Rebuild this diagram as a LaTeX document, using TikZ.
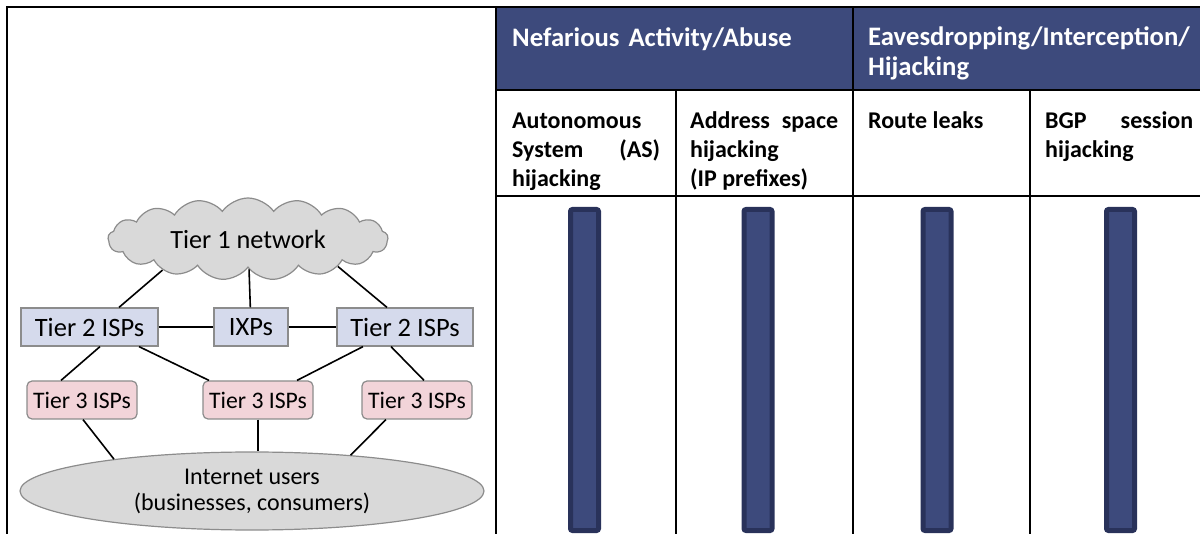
\documentclass[tikz,border=0pt]{standalone}
\usepackage{fontspec}
\setmainfont{Carlito}
\usetikzlibrary{shapes.symbols,shapes.geometric}

\definecolor{headblue}{HTML}{3D4A7C}
\definecolor{bardark}{HTML}{29325A}
\definecolor{cloudgray}{HTML}{D9D9D9}
\definecolor{edgegray}{HTML}{8C8C8C}
\definecolor{tiertwofill}{HTML}{D5DAEC}
\definecolor{tierthreefill}{HTML}{F2D4D9}

\hyphenpenalty=10000
\tolerance=10000

\tikzset{
  gridline/.style={line width=2pt},
  link/.style={line width=1.6pt},
  tiertwo/.style={draw=edgegray, fill=tiertwofill, line width=1.2pt,
    minimum height=38pt, inner sep=0pt, font=\fontsize{26.5}{30}\selectfont},
  tierthree/.style={tiertwo, fill=tierthreefill, rounded corners=5pt,
    minimum width=110pt, font=\fontsize{23.7}{28}\selectfont},
  cellhead/.style={anchor=base west, inner sep=0pt, text=white, text width=330pt,
    align=left, font=\bfseries\fontsize{26.7}{30}\selectfont},
  celltext/.style={anchor=base west, inner sep=0pt, text width=148pt,
    align=justify, font=\bfseries\fontsize{24}{29}\selectfont},
  bar/.style={draw=bardark, fill=headblue, line width=5pt, rounded corners=2pt}
}

\begin{document}
\begin{tikzpicture}[x=1pt, y=-1pt]
  \useasboundingbox (0,0) rectangle (1200,534);

  % Header cells
  \fill[headblue] (496,7) rectangle (1200,90);

  % Table lines
  \draw[gridline] (7,534) -- (7,7) -- (1200,7);
  \draw[gridline] (496,7) -- (496,534);
  \draw[gridline] (853,7) -- (853,534);
  \foreach \x in {676,1030} {
    \draw[gridline] (\x,90) -- (\x,534);
  }
  \foreach \y in {90,196} {
    \draw[gridline] (496,\y) -- (1200,\y);
  }

  % Header texts
  \node[cellhead] (abuse) at (512,47) {Nefarious Activity/Abuse};
  \node[cellhead] (eaves) at (868,46) {Eavesdropping/Interception/\\Hijacking};

  % Threat names
  \node[celltext] (ashijack) at (512,129) {Autonomous System (AS) hijacking};
  \node[celltext] (prefix) at (690,129) {Address space hijacking\\(IP prefixes)};
  \node[celltext] (leaks) at (868,129) {Route leaks};
  \node[celltext] (bgp) at (1045,129) {BGP session hijacking};

  % Bars
  \foreach \x in {584.5,758,937,1120.5} {
    \draw[bar] (\x-14,209.5) rectangle (\x+14,530.5);
  }

  % Network
  \node[cloud, cloud puffs=17, cloud puff arc=110, cloud ignores aspect,
    minimum width=280pt, minimum height=82pt, draw=edgegray, fill=cloudgray,
    line width=1.2pt, inner sep=0pt, font=\fontsize{26.3}{30}\selectfont]
    (tierone) at (248,239) {Tier 1 network};

  \node[tiertwo, minimum width=137pt] (ispleft) at (89.5,327) {Tier 2 ISPs};
  \node[tiertwo, minimum width=74pt] (ixp) at (251,327) {IXPs};
  \node[tiertwo, minimum width=136pt] (ispright) at (405,327) {Tier 2 ISPs};

  \node[tierthree] (localleft) at (82,400) {Tier 3 ISPs};
  \node[tierthree] (localmid) at (258,400) {Tier 3 ISPs};
  \node[tierthree] (localright) at (417,400) {Tier 3 ISPs};

  \node[ellipse, draw=edgegray, fill=cloudgray, line width=1.2pt,
    minimum width=464pt, minimum height=78pt, inner sep=0pt, align=center,
    font=\fontsize{24}{26}\selectfont]
    (users) at (252,491) {Internet users\\(businesses, consumers)};

  % Links
  \draw[link] (tierone.200) -- ([xshift=29.5pt]ispleft.north);
  \draw[link] (tierone) -- (ixp);
  \draw[link] (tierone.343) -- ([xshift=-18pt]ispright.north);
  \draw[link] (ispleft) -- (ixp);
  \draw[link] (ixp) -- (ispright);
  \draw[link] ([xshift=10.5pt]ispleft.south) -- ([xshift=-21pt]localleft.north);
  \draw[link] ([xshift=49.5pt]ispleft.south) -- ([xshift=-49pt]localmid.north);
  \draw[link] ([xshift=-42pt]ispright.south) -- ([xshift=39pt]localmid.north);
  \draw[link] ([xshift=-14pt]ispright.south) -- ([xshift=7pt]localright.north);
  \draw[link] ([xshift=1pt]localleft.south) -- (users.167);
  \draw[link] (localmid.south) -- (localmid.south |- users.north);
  \draw[link] ([xshift=-31pt]localright.south) -- (users.20);

\end{tikzpicture}
\end{document}
